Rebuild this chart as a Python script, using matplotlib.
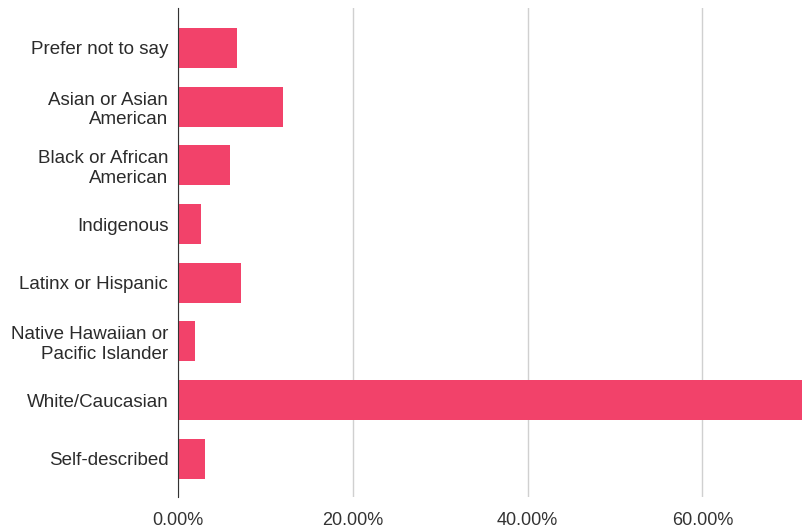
import matplotlib
matplotlib.use('Agg')
import matplotlib.pyplot as plt
from matplotlib.ticker import FuncFormatter

# categories and shares (percent):
labels = ['Prefer not to say', 'Asian or Asian\nAmerican', 'Black or African\nAmerican',
          'Indigenous', 'Latinx or Hispanic', 'Native Hawaiian or\nPacific Islander',
          'White/Caucasian', 'Self-described']
values = [6.8, 12.0, 5.9, 2.6, 7.2, 1.9, 72.5, 3.1]
x_ticks = [0, 20, 40, 60]

plt.rcParams['font.family'] = ['Liberation Sans', 'DejaVu Sans']

fig = plt.figure(figsize=(8.02, 5.31), dpi=100)
ax = fig.add_axes([0.222, 0.064, 0.778, 0.921])

y = list(range(len(labels)))
ax.barh(y, values, height=0.68, color='#F2426A', zorder=3)

ax.set_xlim(0, 71.4)
ax.set_ylim(7.65, -0.68)
ax.set_yticks(y)
ax.set_yticklabels(labels, fontsize=13.5, color='#2b2b2b', linespacing=1.2)
ax.set_xticks(x_ticks)
ax.xaxis.set_major_formatter(FuncFormatter(lambda v, p: '%0.2f%%' % v))
ax.tick_params(axis='x', length=0, pad=11, labelsize=13, labelcolor='#333333')
ax.tick_params(axis='y', length=0, pad=7)
ax.grid(axis='x', color='#d0d0d0', linewidth=1, zorder=0)
for s in ['top', 'right', 'bottom']:
    ax.spines[s].set_visible(False)
ax.spines['left'].set_color('#333333')
ax.spines['left'].set_zorder(4)

fig.savefig('out.png', dpi=100)
